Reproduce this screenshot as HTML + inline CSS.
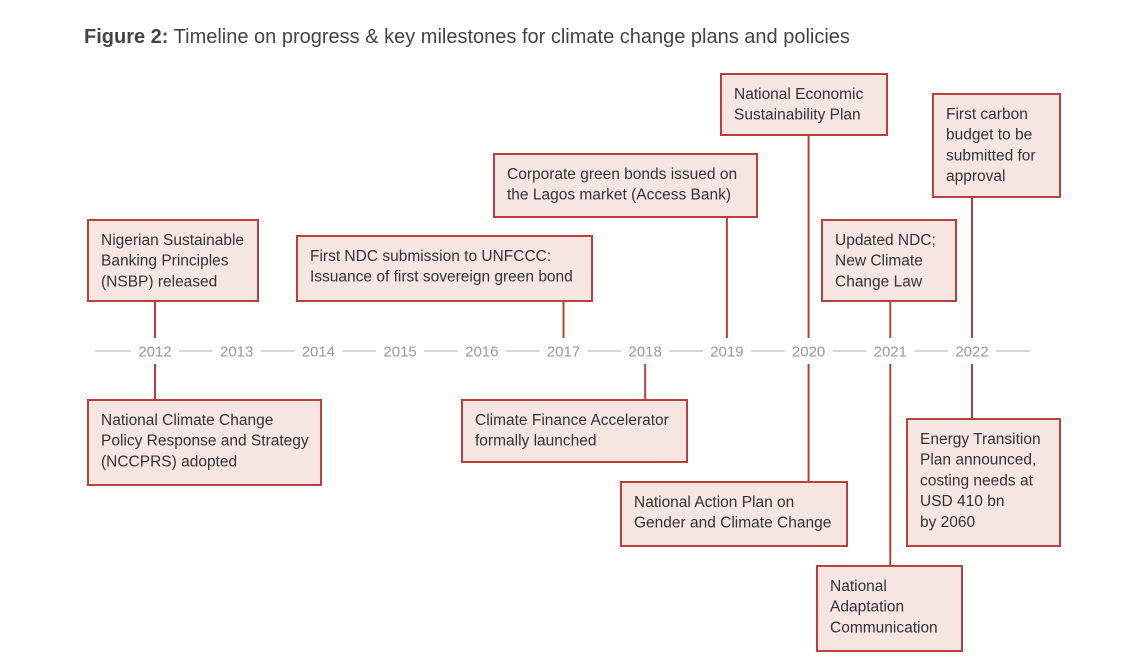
<!DOCTYPE html>
<html><head><meta charset="utf-8"><style>
body{margin:0;background:#fff;width:1147px;height:661px;overflow:hidden;font-family:"Liberation Sans",sans-serif;}
</style></head><body>
<svg width="1147" height="661" id="chart">
<text x="84" y="43" font-size="20" fill="#444"><tspan font-weight="bold">Figure 2:</tspan> Timeline on progress &amp; key milestones for climate change plans and policies</text>
<line x1="95" y1="351" x2="1030" y2="351" stroke="#c8c8c8" stroke-width="1.5"/>
<g id="years"></g>
<g id="events"></g>
</svg>
<script>
const years=[2012,2013,2014,2015,2016,2017,2018,2019,2020,2021,2022];
const eventYears=[2012,2012,2017,2019,2018,2020,2020,2021,2021,2022,2022];
const eventSides=["up","down","up","up","down","up","down","up","down","up","down"];
const eventLabels=[
["Nigerian Sustainable","Banking Principles","(NSBP) released"],
["National Climate Change","Policy Response and Strategy","(NCCPRS) adopted"],
["First NDC submission to UNFCCC:","Issuance of first sovereign green bond"],
["Corporate green bonds issued on","the Lagos market (Access Bank)"],
["Climate Finance Accelerator","formally launched"],
["National Economic","Sustainability Plan"],
["National Action Plan on","Gender and Climate Change"],
["Updated NDC;","New Climate","Change Law"],
["National","Adaptation","Communication"],
["First carbon","budget to be","submitted for","approval"],
["Energy Transition","Plan announced,","costing needs at","USD 410 bn","by 2060"]];
// layout: box rectangles [x1,y1,x2,y2]
const boxes=[[88,220,258,301],[88,400,321,485],[297,236,592,301],[494,154,757,217],[462,400,687,462],[721,74,887,135],[621,482,847,546],[822,220,956,301],[817,566,962,651],[933,94,1060,197],[907,419,1060,546]];
const NS="http://www.w3.org/2000/svg";
function xs(y){return 155+(y-2012)*81.7;}
const axisY=351;
const yg=document.getElementById('years');
years.forEach(y=>{
 const r=document.createElementNS(NS,'rect');
 r.setAttribute('x',xs(y)-24);r.setAttribute('y',axisY-10);r.setAttribute('width',48);r.setAttribute('height',20);r.setAttribute('fill','#fff');
 yg.appendChild(r);
 const t=document.createElementNS(NS,'text');
 
 
 t.setAttribute('x',xs(y));t.setAttribute('y',axisY+5.5);t.setAttribute('text-anchor','middle');
 t.setAttribute('font-size','15');t.setAttribute('fill','#999');t.textContent=y;
 yg.appendChild(t);
});
const eg=document.getElementById('events');
eventYears.forEach((y,i)=>{
 const b=boxes[i];const x=xs(y);const up=eventSides[i]==="up";
 const l=document.createElementNS(NS,'line');
 
 
 l.setAttribute('x1',x);l.setAttribute('x2',x);
 l.setAttribute('y1',up?b[3]:axisY+13);l.setAttribute('y2',up?axisY-13:b[1]);
 l.setAttribute('stroke','#b8403d');l.setAttribute('stroke-width','2');
 eg.appendChild(l);
 const r=document.createElementNS(NS,'rect');
 
 
 r.setAttribute('x',b[0]);r.setAttribute('y',b[1]);r.setAttribute('width',b[2]-b[0]);r.setAttribute('height',b[3]-b[1]);
 r.setAttribute('fill','#f5e6e2');r.setAttribute('stroke','#b8403d');r.setAttribute('stroke-width','2');
 eg.appendChild(r);
 const t=document.createElementNS(NS,'text');
 
 
 t.setAttribute('font-size','15.5');t.setAttribute('fill','#333');
 eventLabels[i].forEach((s,k)=>{
  const sp=document.createElementNS(NS,'tspan');
  sp.setAttribute('x',b[0]+13);sp.setAttribute('y',b[1]+25+k*20.7);sp.textContent=s;t.appendChild(sp);
 });
 eg.appendChild(t);
});
</script>
</body></html>
